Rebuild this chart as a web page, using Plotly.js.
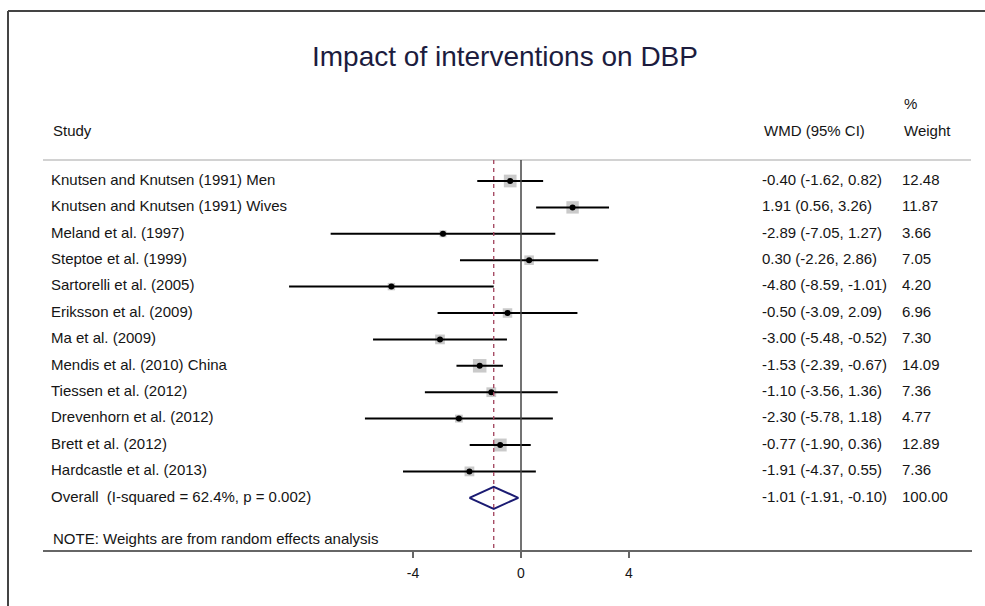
<!DOCTYPE html>
<html>
<head>
<meta charset="utf-8">
<script src="https://cdn.plot.ly/plotly-3.0.1.min.js"></script>
<style>
  html, body { margin: 0; padding: 0; background: #ffffff; }
  #chart { width: 985px; height: 606px; }
</style>
</head>
<body>
<div id="chart"></div>
<script>
// ---------- data ----------
const studies = [
  "Knutsen and Knutsen (1991) Men",
  "Knutsen and Knutsen (1991) Wives",
  "Meland et al. (1997)",
  "Steptoe et al. (1999)",
  "Sartorelli et al. (2005)",
  "Eriksson et al. (2009)",
  "Ma et al. (2009)",
  "Mendis et al. (2010) China",
  "Tiessen et al. (2012)",
  "Drevenhorn et al. (2012)",
  "Brett et al. (2012)",
  "Hardcastle et al. (2013)"
];
const wmd     = [-0.40, 1.91, -2.89, 0.30, -4.80, -0.50, -3.00, -1.53, -1.10, -2.30, -0.77, -1.91];
const lower   = [-1.62, 0.56, -7.05, -2.26, -8.59, -3.09, -5.48, -2.39, -3.56, -5.78, -1.90, -4.37];
const upper   = [ 0.82, 3.26,  1.27,  2.86, -1.01,  2.09, -0.52, -0.67,  1.36,  1.18,  0.36,  0.55];
const weights = [12.48, 11.87, 3.66, 7.05, 4.20, 6.96, 7.30, 14.09, 7.36, 4.77, 12.89, 7.36];

const overallLabel = "Overall\u00a0 (I-squared = 62.4%, p = 0.002)";
const overallEst = -1.01;
const overallLo = -1.91;
const overallHi = -0.10;
const overallWeight = 100.00;

const noteText = "NOTE: Weights are from random effects analysis";
const tickValues = [-4, 0, 4];
const tickLabels = ["-4", "0", "4"];

// ---------- geometry (pixel based layout) ----------
const W = 985, H = 606;
const plotL = 43, plotR = 972, plotT = 11, plotB = 550;
const zeroPx = 521, pxPerUnit = 27;
const row0Px = 181, rowPx = 26.4;

const xMin = -(zeroPx - plotL) / pxPerUnit;
const xMax = (plotR - zeroPx) / pxPerUnit;
const yTop = -(row0Px - plotT) / rowPx;
const yBot = (plotB - row0Px) / rowPx;
const px2x = p => (p - zeroPx) / pxPerUnit;
const px2y = p => (p - row0Px) / rowPx;

const colStudy = px2x(51);
const colWmd = px2x(762);
const colWeight = px2x(902);

const rows = studies.map((_, i) => i);
const overallRow = studies.length;
const allRows = rows.concat([overallRow]);

const fmt = v => v.toFixed(2);
const wmdText = wmd.map((v, i) => `${fmt(v)} (${fmt(lower[i])}, ${fmt(upper[i])})`)
  .concat([`${fmt(overallEst)} (${fmt(overallLo)}, ${fmt(overallHi)})`]);
const weightText = weights.map(fmt).concat([fmt(overallWeight)]);
const labelText = studies.concat([overallLabel]);

const txtFont = { family: "Liberation Sans, Arial, sans-serif", size: 15, color: "#151515" };

// CI lines
const ciX = [], ciY = [];
rows.forEach(i => { ciX.push(lower[i], upper[i], null); ciY.push(i, i, null); });

// diamond
const dh = 11 / rowPx;
const diamondX = [overallLo, overallEst, overallHi, overallEst, overallLo];
const diamondY = [overallRow, overallRow - dh, overallRow, overallRow + dh, overallRow];

const traces = [
  { // weight boxes
    type: "scatter", mode: "markers", x: wmd, y: rows,
    marker: { symbol: "square", color: "#b4b4b4", size: weights.map(w => 3.6 * Math.sqrt(w)), line: { width: 0 } },
    cliponaxis: false, hoverinfo: "skip"
  },
  { // CI lines
    type: "scatter", mode: "lines", x: ciX, y: ciY,
    line: { color: "#000000", width: 2 }, connectgaps: false, cliponaxis: false, hoverinfo: "skip"
  },
  { // point estimates
    type: "scatter", mode: "markers", x: wmd, y: rows,
    marker: { symbol: "circle", color: "#000000", size: 6 },
    cliponaxis: false, hoverinfo: "skip"
  },
  { // overall diamond
    type: "scatter", mode: "lines", x: diamondX, y: diamondY,
    line: { color: "#1b1b72", width: 2 }, cliponaxis: false, hoverinfo: "skip"
  },
  { // study labels
    type: "scatter", mode: "text", x: allRows.map(() => colStudy), y: allRows,
    text: labelText, textposition: "middle right", textfont: txtFont, cliponaxis: false, hoverinfo: "skip"
  },
  { // WMD column
    type: "scatter", mode: "text", x: allRows.map(() => colWmd), y: allRows,
    text: wmdText, textposition: "middle right", textfont: txtFont, cliponaxis: false, hoverinfo: "skip"
  },
  { // weight column
    type: "scatter", mode: "text", x: allRows.map(() => colWeight), y: allRows,
    text: weightText, textposition: "middle right", textfont: txtFont, cliponaxis: false, hoverinfo: "skip"
  }
];

const headerY = px2y(130);
const pctY = px2y(103);
const noteY = px2y(538);
const hdrLineY = px2y(160);

const ann = (x, y, text) => ({ x, y, xref: "x", yref: "y", text, showarrow: false,
  xanchor: "left", yanchor: "middle", font: txtFont });

const layout = {
  width: W, height: H,
  paper_bgcolor: "#ffffff", plot_bgcolor: "#ffffff",
  margin: { l: plotL, r: W - plotR, t: plotT, b: H - plotB, pad: 0 },
  showlegend: false,
  title: {
    text: "Impact of interventions on DBP",
    font: { family: "Liberation Sans, Arial, sans-serif", size: 28, color: "#1c1c3e" },
    xref: "container", yref: "container", x: 505 / W, xanchor: "center",
    y: 1 - 56 / H, yanchor: "middle"
  },
  xaxis: {
    range: [xMin, xMax], showgrid: false, zeroline: false, fixedrange: true,
    showline: true, linecolor: "#666666", linewidth: 2,
    ticks: "outside", ticklen: 6, tickwidth: 1.5, tickcolor: "#666666",
    tickvals: tickValues, ticktext: tickLabels, ticklabelstandoff: 3,
    tickfont: { family: "Liberation Sans, Arial, sans-serif", size: 14, color: "#151515" }
  },
  yaxis: { range: [yBot, yTop], visible: false, fixedrange: true },
  annotations: [
    ann(colStudy, headerY, "Study"),
    ann(colWmd, headerY, "WMD (95% CI)"),
    ann(colWeight, headerY, "Weight"),
    ann(colWeight, pctY, "%"),
    ann(colStudy, noteY, noteText)
  ],
  shapes: [
    // header separator
    { type: "line", xref: "paper", yref: "y", x0: 0, x1: (971 - plotL) / (plotR - plotL), y0: hdrLineY, y1: hdrLineY,
      line: { color: "#d2d2d2", width: 2 } },
    // null line at 0
    { type: "line", xref: "x", yref: "y", x0: 0, x1: 0, y0: hdrLineY, y1: yBot,
      line: { color: "#444444", width: 1.5 } },
    // overall estimate dashed line
    { type: "line", xref: "x", yref: "y", x0: overallEst, x1: overallEst, y0: hdrLineY, y1: yBot,
      line: { color: "#a0405a", width: 1.3, dash: "4px,4px" } },
    // outer frame (top and left)
    { type: "line", xref: "paper", yref: "paper", x0: (8 - plotL) / (plotR - plotL), x1: (W - plotL) / (plotR - plotL),
      y0: 1 + (plotT - 11) / (plotB - plotT), y1: 1 + (plotT - 11) / (plotB - plotT),
      line: { color: "#444444", width: 2 } },
    { type: "line", xref: "paper", yref: "paper", x0: (8 - plotL) / (plotR - plotL), x1: (8 - plotL) / (plotR - plotL),
      y0: 1, y1: -(H - plotB) / (plotB - plotT),
      line: { color: "#444444", width: 2 } }
  ]
};

Plotly.newPlot("chart", traces, layout, { displayModeBar: false, staticPlot: true });
</script>
</body>
</html>
